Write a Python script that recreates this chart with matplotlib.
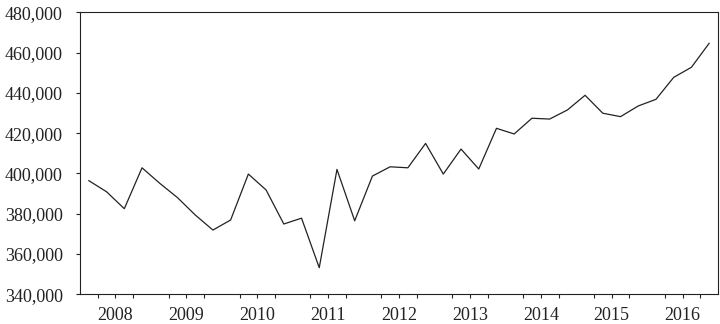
import matplotlib
matplotlib.use("Agg")
import matplotlib.pyplot as plt
from matplotlib.ticker import FixedLocator

years = [2008, 2009, 2010, 2011, 2012, 2013, 2014, 2015, 2016]
values = [396.4, 390.9, 382.5, 402.8, 395.1, 388.0, 379.4, 371.9,
          376.9, 399.7, 391.8, 374.9, 377.8, 353.2, 402.0, 376.5,
          398.7, 403.3, 402.8, 414.9, 399.7, 412.1, 402.2, 422.4,
          419.6, 427.4, 427.0, 431.5, 438.8, 429.9, 428.2, 433.5,
          436.8, 447.7, 452.7, 464.6]
values = [v * 1000 for v in values]
yticks = [340000, 360000, 380000, 400000, 420000, 440000, 460000, 480000]

plt.rcParams['font.family'] = ['Liberation Serif', 'DejaVu Serif']
FONT = 'Liberation Serif'

fig = plt.figure(figsize=(7.2, 3.24), dpi=100)
ax = fig.add_axes([80/720, 1-294.3/324, (718-80)/720, (294.3-12.3)/324])

x = list(range(len(values)))
ax.plot(x, values, color='#222222', lw=0.9)

ax.set_xlim(-0.5, len(values) - 0.5)
ax.set_ylim(340000, 480000)
ax.set_yticks(yticks)
ax.set_yticklabels([f"{v:,}" for v in yticks], fontfamily=FONT, fontsize=13)

ax.set_xticks([4*i + 1.5 for i in range(len(years))])
ax.set_xticklabels([str(y) for y in years], fontfamily=FONT, fontsize=13)
minor = []
for i in range(len(years)):
    minor += [4*i + 0.5, 4*i + 2.5]
ax.xaxis.set_minor_locator(FixedLocator(minor))

ax.tick_params(axis='both', which='both', direction='out', length=3, width=0.8,
               colors='#222222')
ax.tick_params(axis='y', pad=9.4)
ax.tick_params(axis='x', pad=6)
ax.tick_params(top=False, right=False)
for s in ax.spines.values():
    s.set_linewidth(0.8)
    s.set_color('#222222')

fig.savefig("out.png", dpi=100)
